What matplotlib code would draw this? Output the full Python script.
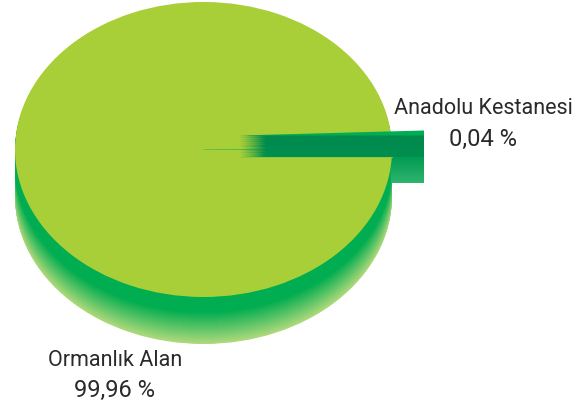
import numpy as np
import matplotlib
matplotlib.use("Agg")
import matplotlib.pyplot as plt
from matplotlib.patches import Ellipse, Polygon
from matplotlib.transforms import Affine2D
from matplotlib.colors import to_rgb

categories = ["Ormanlık Alan", "Anadolu Kestanesi"]
values = [99.96, 0.04]
value_labels = ["99,96 %", "0,04 %"]

LIME = "#A8CF38"
GREEN = "#00AD50"
DARK = "#008A4E"
FONT = ["Roboto", "Liberation Sans", "DejaVu Sans"]
TEXT = "#2b2a29"

W, H = 587, 406
fig = plt.figure(figsize=(W / 100, H / 100), dpi=100)
ax = fig.add_axes([0, 0, 1, 1])

cx, cy, rx, ry, depth = 203.5, 150.5, 188.5, 147.5, 47.0


def mix(a, b, t):
    a, b = np.array(to_rgb(a)), np.array(to_rgb(b))
    return tuple(a + (b - a) * t)


# disc side: solid band then a fade towards the bottom rim
for off in np.arange(depth, 1.0, -0.5):
    t = np.clip((off - 15) / (depth - 15), 0, 1)
    ax.add_patch(Ellipse((cx, cy + off), 2 * rx, 2 * ry, fc=mix(GREEN, "#B0DA7C", t),
                         ec="none", zorder=1))

# top of the disc from the data
wedges, _ = ax.pie(values, colors=[LIME, GREEN], startangle=-0.2, counterclock=True,
                   wedgeprops=dict(linewidth=0))
tf = Affine2D().scale(rx, -ry).translate(cx, cy) + ax.transData
for w in wedges:
    w.set_transform(tf)
wedges[0].set_zorder(3)
wedges[1].set_zorder(3.5)
wedges[1].set_edgecolor(GREEN)
wedges[1].set_linewidth(0.25)

# pulled-out slice: front face
x0, x1, xd = 237, 424, 392
grad = np.linspace(0, 1, 64)[:, None, None]
c0, c1 = np.array(to_rgb("#009A52")), np.array(to_rgb("#2FB56E"))
front = c0 + (c1 - c0) * grad
ax.imshow(front, extent=(xd - 1, x1, 184, 157), aspect="auto", zorder=2, interpolation="bilinear")

# pulled-out slice: top face with faded, streaky inner end
rows = 21
cols = x1 - x0
offsets = [0, 5, 2, 7, 3, 6, 1, 8, 4, 7, 2, 9, 5, 8, 3, 6, 1, 7, 4, 6, 2]
top = np.zeros((rows, cols, 4))
base_top, base_bot = np.array(to_rgb("#008A4E")), np.array(to_rgb("#008F4F"))
xs = np.arange(cols) + 0.5
for i in range(rows):
    top[i, :, :3] = base_top + (base_bot - base_top) * i / (rows - 1)
    top[i, :, 3] = np.clip((xs - offsets[i] * 0.5) / 26, 0, 1) ** 1.2
ax.imshow(top, extent=(x0, x1, 157.5, 136.5), aspect="auto", zorder=4, interpolation="nearest")
ax.add_patch(Polygon([(x0 + 10, 136.3), (x1, 131.5), (x1, 136.5), (x0 + 10, 136.5)],
                     fc=GREEN, ec="none", zorder=5))
ax.plot([x0 + 4, xd], [157.6, 157.6], color="#8CC63F", lw=0.6, zorder=5)

ax.set_aspect("auto")
ax.set_xlim(0, W)
ax.set_ylim(H, 0)
ax.axis("off")

fs = 15.5
fv = 17
ax.text(115, 361, categories[0], ha="center", va="center", fontsize=fs, color=TEXT, family=FONT)
ax.text(115, 390, value_labels[0], ha="center", va="center", fontsize=fv, color=TEXT, family=FONT)
ax.text(483, 109, categories[1], ha="center", va="center", fontsize=fs, color=TEXT, family=FONT)
ax.text(483, 139, value_labels[1], ha="center", va="center", fontsize=fv, color=TEXT, family=FONT)

fig.savefig("out.png", dpi=100, facecolor="white")
